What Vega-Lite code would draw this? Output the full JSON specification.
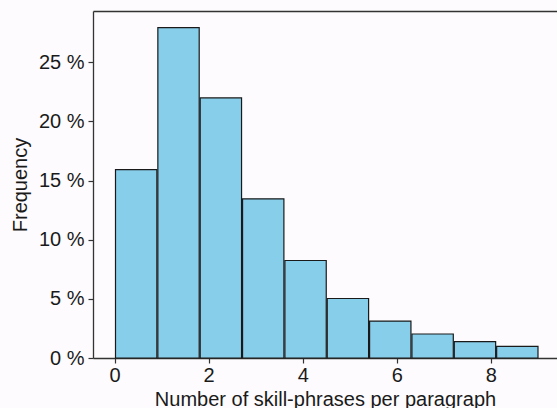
{
  "$schema": "https://vega.github.io/schema/vega-lite/v6.json",
  "width": 464,
  "height": 347,
  "autosize": {"type": "none"},
  "padding": {"left": 93, "top": 11, "right": 0, "bottom": 50},
  "background": "#fdfbfd",
  "config": {
    "view": {"stroke": null},
    "font": "Liberation Sans",
    "axis": {
      "grid": false,
      "domainColor": "#333333",
      "domainWidth": 1.3,
      "tickColor": "#333333",
      "tickWidth": 1.2,
      "tickSize": 5,
      "labelFont": "Liberation Sans",
      "labelFontSize": 20,
      "labelColor": "#1a1a1a",
      "titleFont": "Liberation Sans",
      "titleFontSize": 20,
      "titleFontWeight": "normal",
      "titleColor": "#1a1a1a"
    }
  },
  "data": {
    "values": [
      {"bin_start": 0.0, "bin_end": 0.9, "pct": 15.93},
      {"bin_start": 0.9, "bin_end": 1.8, "pct": 27.93},
      {"bin_start": 1.8, "bin_end": 2.7, "pct": 21.98},
      {"bin_start": 2.7, "bin_end": 3.6, "pct": 13.45},
      {"bin_start": 3.6, "bin_end": 4.5, "pct": 8.24},
      {"bin_start": 4.5, "bin_end": 5.4, "pct": 5.03},
      {"bin_start": 5.4, "bin_end": 6.3, "pct": 3.12},
      {"bin_start": 6.3, "bin_end": 7.2, "pct": 2.03},
      {"bin_start": 7.2, "bin_end": 8.1, "pct": 1.38},
      {"bin_start": 8.1, "bin_end": 9.0, "pct": 0.98}
    ]
  },
  "layer": [
    {
      "mark": {"type": "bar", "fill": "#87CEEB", "stroke": "#1a1a1a", "strokeWidth": 1.2},
      "encoding": {
        "x": {
          "field": "bin_start",
          "type": "quantitative",
          "bin": "binned",
          "scale": {"domain": [-0.457, 9.404], "nice": false, "zero": false},
          "axis": {
            "values": [0, 2, 4, 6, 8],
            "format": "d",
            "labelPadding": 2,
            "title": "Number of skill-phrases per paragraph",
            "titleBaseline": "alphabetic",
            "titleY": 47
          }
        },
        "x2": {"field": "bin_end"},
        "y": {
          "field": "pct",
          "type": "quantitative",
          "scale": {"domain": [0, 29.33], "nice": false},
          "axis": {
            "values": [0, 5, 10, 15, 20, 25],
            "labelExpr": "datum.value + ' %'",
            "labelPadding": 4,
            "title": "Frequency",
            "titleBaseline": "alphabetic",
            "titleX": -67
          }
        }
      }
    },
    {
      "mark": {"type": "bar", "opacity": 0},
      "encoding": {
        "x": {
          "field": "bin_start",
          "type": "quantitative",
          "bin": "binned",
          "axis": {"orient": "top", "labels": false, "ticks": false, "title": null}
        },
        "x2": {"field": "bin_end"}
      }
    }
  ],
  "resolve": {"axis": {"x": "independent"}}
}
